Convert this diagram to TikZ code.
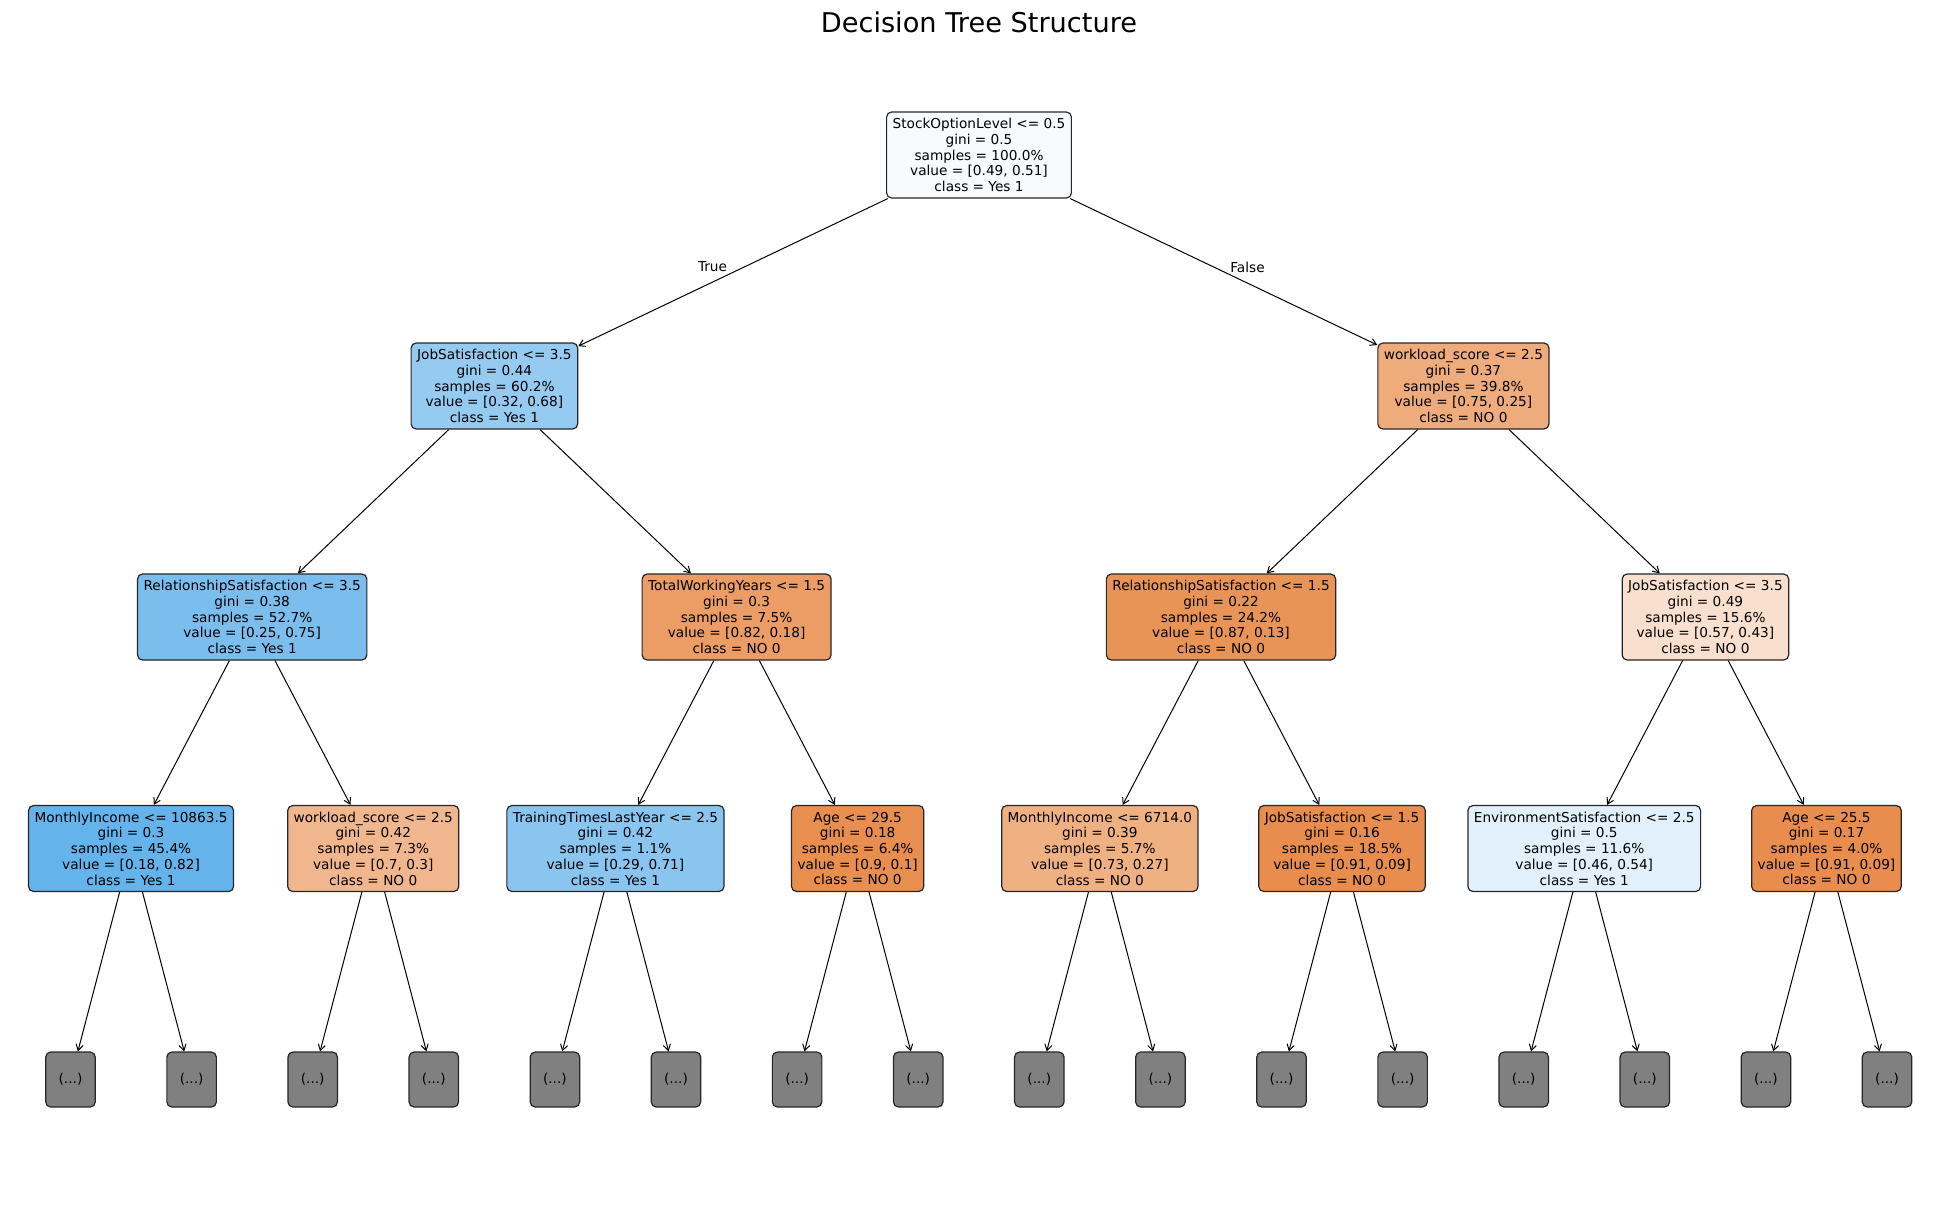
\documentclass[tikz,border=0pt]{standalone}
\usepackage{fontspec}
\setmainfont{DejaVu Sans}
\usetikzlibrary{arrows.meta}
\definecolor{c0}{HTML}{F7FBFE}
\definecolor{c1a}{HTML}{96CBF1}
\definecolor{c1b}{HTML}{EEAB7B}
\definecolor{c2a}{HTML}{7BBEEE}
\definecolor{c2b}{HTML}{EB9D65}
\definecolor{c2c}{HTML}{E99457}
\definecolor{c2d}{HTML}{F9E0CE}
\definecolor{c3a}{HTML}{65B3EB}
\definecolor{c3b}{HTML}{F0B78E}
\definecolor{c3c}{HTML}{8AC5F0}
\definecolor{c3d}{HTML}{E88F4F}
\definecolor{c3e}{HTML}{EFB082}
\definecolor{c3f}{HTML}{E88D4D}
\definecolor{c3g}{HTML}{E2F0FB}
\definecolor{c3h}{HTML}{E88D4D}
\definecolor{leafgray}{HTML}{808080}
\begin{document}
\begin{tikzpicture}[x=0.5pt,y=-0.5pt,
  tn/.style={draw=black!85, line width=0.6pt, rounded corners=2.5pt, align=center,
    font=\fontsize{6.83}{7.85}\selectfont, minimum height=43pt, inner xsep=3pt, inner ysep=0pt},
  lf/.style={draw=black!85, line width=0.6pt, rounded corners=2.5pt, fill=leafgray,
    font=\fontsize{6.83}{7.85}\selectfont, minimum width=24.75pt, minimum height=27.5pt, inner sep=0pt},
  arr/.style={-{Straight Barb[length=3pt,width=3.6pt]}, line width=0.5pt},
  elab/.style={font=\fontsize{6.83}{7.85}\selectfont, inner sep=0pt}]
\useasboundingbox (0,0) rectangle (1957,1205);
\node[font=\fontsize{13.6}{16}\selectfont, anchor=base, inner sep=0pt] (title) at (979,32) {Decision Tree Structure};
% root
\node[tn, fill=c0] (r) at (979,155) {StockOptionLevel <= 0.5\\gini = 0.5\\samples = 100.0\%\\value = [0.49, 0.51]\\class = Yes 1};
% level 1
\node[tn, fill=c1a] (a) at (494.4,386) {JobSatisfaction <= 3.5\\gini = 0.44\\samples = 60.2\%\\value = [0.32, 0.68]\\class = Yes 1};
\node[tn, fill=c1b] (b) at (1463.4,386) {workload\_score <= 2.5\\gini = 0.37\\samples = 39.8\%\\value = [0.75, 0.25]\\class = NO 0};
% level 2
\node[tn, fill=c2a] (aa) at (252.2,617) {RelationshipSatisfaction <= 3.5\\gini = 0.38\\samples = 52.7\%\\value = [0.25, 0.75]\\class = Yes 1};
\node[tn, fill=c2b] (ab) at (736.6,617) {TotalWorkingYears <= 1.5\\gini = 0.3\\samples = 7.5\%\\value = [0.82, 0.18]\\class = NO 0};
\node[tn, fill=c2c] (ba) at (1221,617) {RelationshipSatisfaction <= 1.5\\gini = 0.22\\samples = 24.2\%\\value = [0.87, 0.13]\\class = NO 0};
\node[tn, fill=c2d] (bb) at (1705.4,617) {JobSatisfaction <= 3.5\\gini = 0.49\\samples = 15.6\%\\value = [0.57, 0.43]\\class = NO 0};
% level 3
\node[tn, fill=c3a] (n0) at (131.05,848.5) {MonthlyIncome <= 10863.5\\gini = 0.3\\samples = 45.4\%\\value = [0.18, 0.82]\\class = Yes 1};
\node[tn, fill=c3b] (n1) at (373.25,848.5) {workload\_score <= 2.5\\gini = 0.42\\samples = 7.3\%\\value = [0.7, 0.3]\\class = NO 0};
\node[tn, fill=c3c] (n2) at (615.45,848.5) {TrainingTimesLastYear <= 2.5\\gini = 0.42\\samples = 1.1\%\\value = [0.29, 0.71]\\class = Yes 1};
\node[tn, fill=c3d] (n3) at (857.65,848.5) {Age <= 29.5\\gini = 0.18\\samples = 6.4\%\\value = [0.9, 0.1]\\class = NO 0};
\node[tn, fill=c3e] (n4) at (1099.85,848.5) {MonthlyIncome <= 6714.0\\gini = 0.39\\samples = 5.7\%\\value = [0.73, 0.27]\\class = NO 0};
\node[tn, fill=c3f] (n5) at (1342.05,848.5) {JobSatisfaction <= 1.5\\gini = 0.16\\samples = 18.5\%\\value = [0.91, 0.09]\\class = NO 0};
\node[tn, fill=c3g] (n6) at (1584.25,848.5) {EnvironmentSatisfaction <= 2.5\\gini = 0.5\\samples = 11.6\%\\value = [0.46, 0.54]\\class = Yes 1};
\node[tn, fill=c3h] (n7) at (1826.45,848.5) {Age <= 25.5\\gini = 0.17\\samples = 4.0\%\\value = [0.91, 0.09]\\class = NO 0};
% leaves
\foreach \k in {0,...,15} {
  \node[lf] (l\k) at ({70.5+121.1*\k},1079.5) {(...)};
}
% edges
\draw[arr] (r) -- (a);
\draw[arr] (r) -- (b);
\draw[arr] (a) -- (aa);
\draw[arr] (a) -- (ab);
\draw[arr] (b) -- (ba);
\draw[arr] (b) -- (bb);
\draw[arr] (aa) -- (n0);
\draw[arr] (aa) -- (n1);
\draw[arr] (ab) -- (n2);
\draw[arr] (ab) -- (n3);
\draw[arr] (ba) -- (n4);
\draw[arr] (ba) -- (n5);
\draw[arr] (bb) -- (n6);
\draw[arr] (bb) -- (n7);
\foreach \p [evaluate=\p as \lo using int(2*\p), evaluate=\p as \hi using int(2*\p+1)] in {0,...,7} {
  \draw[arr] (n\p) -- (l\lo);
  \draw[arr] (n\p) -- (l\hi);
}
\node[elab] (tlab) at (712.5,267) {True};
\node[elab] (flab) at (1247.5,267) {False};
\end{tikzpicture}
\end{document}
